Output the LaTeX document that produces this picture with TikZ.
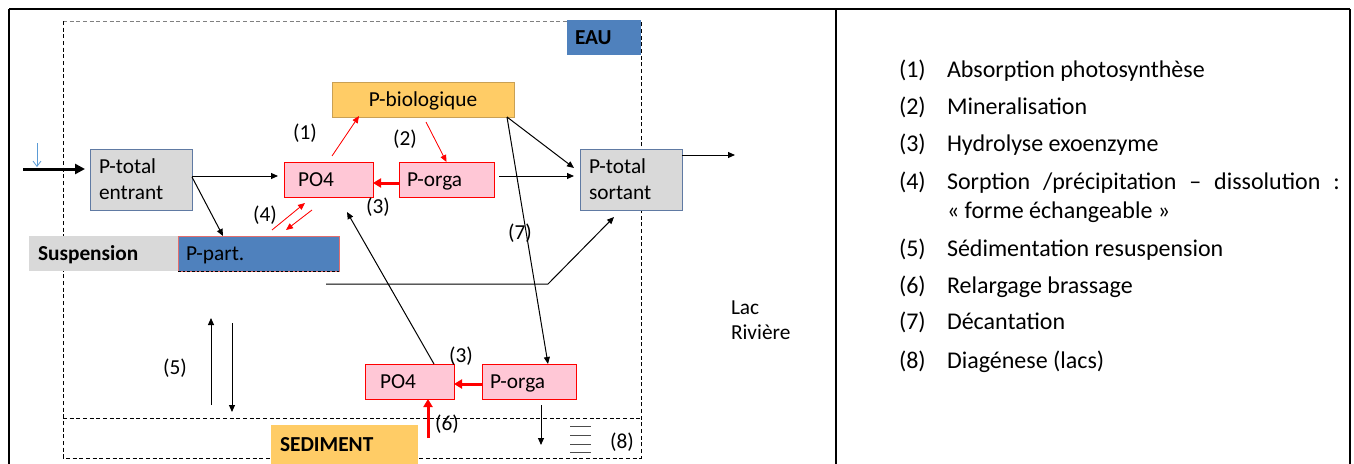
\documentclass[tikz,border=0pt]{standalone}
\usepackage{fontspec}
\setmainfont{Carlito}
\usetikzlibrary{arrows.meta,calc}
\definecolor{gboxfill}{RGB}{217,217,217}
\definecolor{gboxline}{RGB}{96,122,163}
\definecolor{pinkfill}{RGB}{255,199,214}
\definecolor{orangefill}{RGB}{255,204,102}
\definecolor{orangeline}{RGB}{201,160,84}
\definecolor{bluefill}{RGB}{79,129,189}
\definecolor{lightblue}{RGB}{91,155,213}
\definecolor{dashgray}{RGB}{128,128,128}
\definecolor{pparttop}{RGB}{225,110,110}
\begin{document}
\begin{tikzpicture}[x=0.75pt,y=-0.75pt,
  every node/.style={inner ysep=0pt, outer sep=0pt},
  dbox/.style={rectangle, anchor=north west, align=left, font=\fontsize{16}{19.5}\selectfont, line width=0.75pt},
  oneline/.style={text height=10.3pt, text depth=0pt, minimum height=26.25pt},
  graybox/.style={dbox, fill=gboxfill, draw=gboxline, minimum width=76.5pt, minimum height=45.75pt, inner xsep=6.75pt, text width=63pt},
  pinkbox/.style={dbox, oneline, fill=pinkfill, draw=red},
  lab/.style={font=\fontsize{16}{19.5}\selectfont, inner sep=0pt},
  listtxt/.style={font=\fontsize{18}{22}\selectfont, anchor=west, inner sep=0pt, text height=13.5pt, text depth=4pt},
  conn/.style={line width=0.75pt, -{Triangle[length=5.25pt,width=4.5pt]}},
  redconn/.style={conn, draw=red, fill=red, line width=0.6pt},
  redthick/.style={draw=red, line width=2.25pt, -{Triangle[length=6pt,width=6.75pt]}},
  tableline/.style={line width=1.5pt},
  dashframe/.style={line width=0.75pt, dash pattern=on 3pt off 2pt}
]
\useasboundingbox (0,0) rectangle (1354,464);

% table frame
\draw[tableline] (9,9) -- (1350,9);
\draw[tableline] (9,9) -- (9,464);
\draw[tableline] (836,9) -- (836,464);
\draw[tableline] (1350,9) -- (1350,464);

% dashed water / sediment frames
\draw[dashframe, draw=dashgray] (63,21) -- (567,21);
\draw[dashframe] (63,21) -- (63,458) -- (641,458) -- (641,20);
\draw[dashframe] (63,418) -- (641,418);

% boxes
\node[graybox] (ptin) at (90,149) {P-total\\entrant};
\node[graybox] (ptout) at (580,149) {P-total\\sortant};
\node[dbox, oneline, fill=orangefill, draw=orangeline, minimum width=136.5pt, inner xsep=0pt, text width=136.5pt, align=center] (pbio) at (332,82) {P-biologique};
\node[pinkbox, minimum width=66.75pt, inner xsep=10.5pt, text width=45.75pt] (po4) at (284,162) {PO4};
\node[pinkbox, minimum width=71.25pt, inner xsep=6pt, text width=59.25pt] (porga) at (399,162) {P-orga};
\node[pinkbox, minimum width=66.75pt, inner xsep=11.25pt, text width=44.25pt] (po4L) at (365,364) {PO4};
\node[pinkbox, minimum width=70.5pt, inner xsep=6pt, text width=58.5pt] (porgaL) at (482,364) {P-orga};
\node[dbox, oneline, fill=gboxfill, minimum width=111.75pt, inner xsep=6.75pt, text width=98.25pt, font=\fontsize{16}{19.5}\selectfont\bfseries] (susp) at (29,236) {Suspension};
\node[dbox, oneline, fill=bluefill, draw=pparttop, line width=0.6pt, minimum width=120.75pt, inner xsep=6pt, text width=108.75pt] (ppart) at (178,236) {P-part.};
\draw[line width=0.75pt, dash pattern=on 2pt off 1.5pt] (ppart.south west) -- (ppart.south east);
\node[dbox, oneline, fill=bluefill, minimum width=55.5pt, inner xsep=6pt, text width=43.5pt, font=\fontsize{16}{19.5}\selectfont\bfseries] (eau) at (567,20) {EAU};
\node[dbox, text height=10.3pt, text depth=0pt, fill=orangefill, minimum width=110.25pt, minimum height=29.25pt, inner xsep=6.75pt, text width=96.75pt, font=\fontsize{16}{19.5}\selectfont\bfseries] (sed) at (271,425) {SEDIMENT};

% free ends
\coordinate (in1) at (23,169);
\coordinate (bl1) at (37,143);
\coordinate (bl2) at (37,167);
\coordinate (pp1) at (326,284);
\coordinate (pp2) at (548,284);
\coordinate (out1) at (735,155);
\coordinate (s5a) at (211,405);
\coordinate (s5b) at (211,318);
\coordinate (s5c) at (232,323);
\coordinate (s5d) at (232,412);
\coordinate (r6) at (428,438);
\coordinate (d8) at (541,445);

% connectors
\draw[line width=2.25pt, -{Triangle[length=7.5pt,width=7.5pt]}, shorten >=3.75pt] (in1) -- (in1 -| ptin.west);
\draw[line width=0.6pt, draw=lightblue, -{Straight Barb[length=4pt,width=6pt]}] (bl1) -- (bl2);
\draw[conn, shorten >=4.5pt] ($(ptin.east)+(0,-3.5)$) -- ($(po4.west)+(0,-3.5)$);
\draw[conn] ($(ptin.east)+(0,-2.5)$) -- ($(ppart.north west)+(45,0)$);
\draw[redconn] ($(po4.north)+(3.5,-6)$) -- ($(pbio.south west)+(27,-1)$);
\draw[redconn] ($(pbio.south)+(3,5)$) -- (porga.north);
\draw[redthick] ($(porga.west)+(0,3.5)$) -- ($(po4.east)+(0,3.5)$);
\draw[conn, shorten >=4.5pt] ($(porga.east)+(5,-3.5)$) -- ($(ptout.west)+(0,-3.5)$);
\draw[conn] ($(pbio.south east)+(-7,0)$) -- ($(ptout.west)+(-6,-11.5)$);
\draw[conn] ($(pbio.south east)+(-7,0)$) -- ($(porgaL.north)+(19,0)$);
\draw[redthick] ($(porgaL.west)+(0,2.5)$) -- ($(po4L.east)+(0,2.5)$);
\draw[conn] ($(po4L.north)+(24.5,0)$) -- ($(po4.south)+(18.5,15)$);
\draw[line width=0.75pt, -{Triangle[length=5.25pt,width=4.5pt]}] (pp1) -- (pp2) -- ($(ptout.south)+(-17,7)$);
\draw[redconn] ($(ppart.north east)+(-67,-6)$) -- ($(po4.south west)+(21,6)$);
\draw[redconn] ($(po4.south west)+(28,13)$) -- ($(ppart.north east)+(-53,-6)$);
\draw[conn] (s5a) -- (s5b);
\draw[conn] (s5c) -- (s5d);
\draw[conn] ($(ptout.east)+(0,-24.5)$) -- (out1);
\draw[redthick] (r6) -- ($(po4L.south)+(18.5,0)$);
\draw[conn] ($(porgaL.south)+(12,6)$) -- (d8);
\foreach \yy in {426,435,444,452} \draw[line width=0.75pt, draw=black!70] (570,\yy) -- (591,\yy);

% labels
\node[lab] (l1) at (305,133) {(1)};
\node[lab] (l2) at (405,139) {(2)};
\node[lab] (l3) at (378,207) {(3)};
\node[lab] (l4) at (265,215) {(4)};
\node[lab] (l7) at (520,233) {(7)};
\node[lab] (l5) at (175,368) {(5)};
\node[lab] (l3b) at (461,356) {(3)};
\node[lab] (l6) at (447,424) {(6)};
\node[lab] (l8) at (622,442) {(8)};
\node[lab, anchor=west, align=left, font=\fontsize{16}{18.75}\selectfont] (lac) at (731,320) {Lac\\Rivière};

% legend
\node[listtxt] (n1) at (899,71) {(1)};
\node[listtxt] (t1) at (947,71) {Absorption photosynthèse};
\node[listtxt] (n2) at (899,108) {(2)};
\node[listtxt] (t2) at (947,108) {Mineralisation};
\node[listtxt] (n3) at (899,145) {(3)};
\node[listtxt] (t3) at (947,145) {Hydrolyse exoenzyme};
\node[listtxt] (n4) at (899,183) {(4)};
\node[listtxt] (t4) at (947,183) {\makebox[294.75pt][s]{Sorption /précipitation – dissolution :}};
\node[listtxt] (t4b) at (947,212) {« forme échangeable »};
\node[listtxt] (n5) at (899,250) {(5)};
\node[listtxt] (t5) at (947,250) {Sédimentation resuspension};
\node[listtxt] (n6) at (899,287) {(6)};
\node[listtxt] (t6) at (947,287) {Relargage brassage};
\node[listtxt] (n7) at (899,323) {(7)};
\node[listtxt] (t7) at (947,323) {Décantation};
\node[listtxt] (n8) at (899,362) {(8)};
\node[listtxt] (t8) at (947,362) {Diagénese (lacs)};
\end{tikzpicture}
\end{document}
